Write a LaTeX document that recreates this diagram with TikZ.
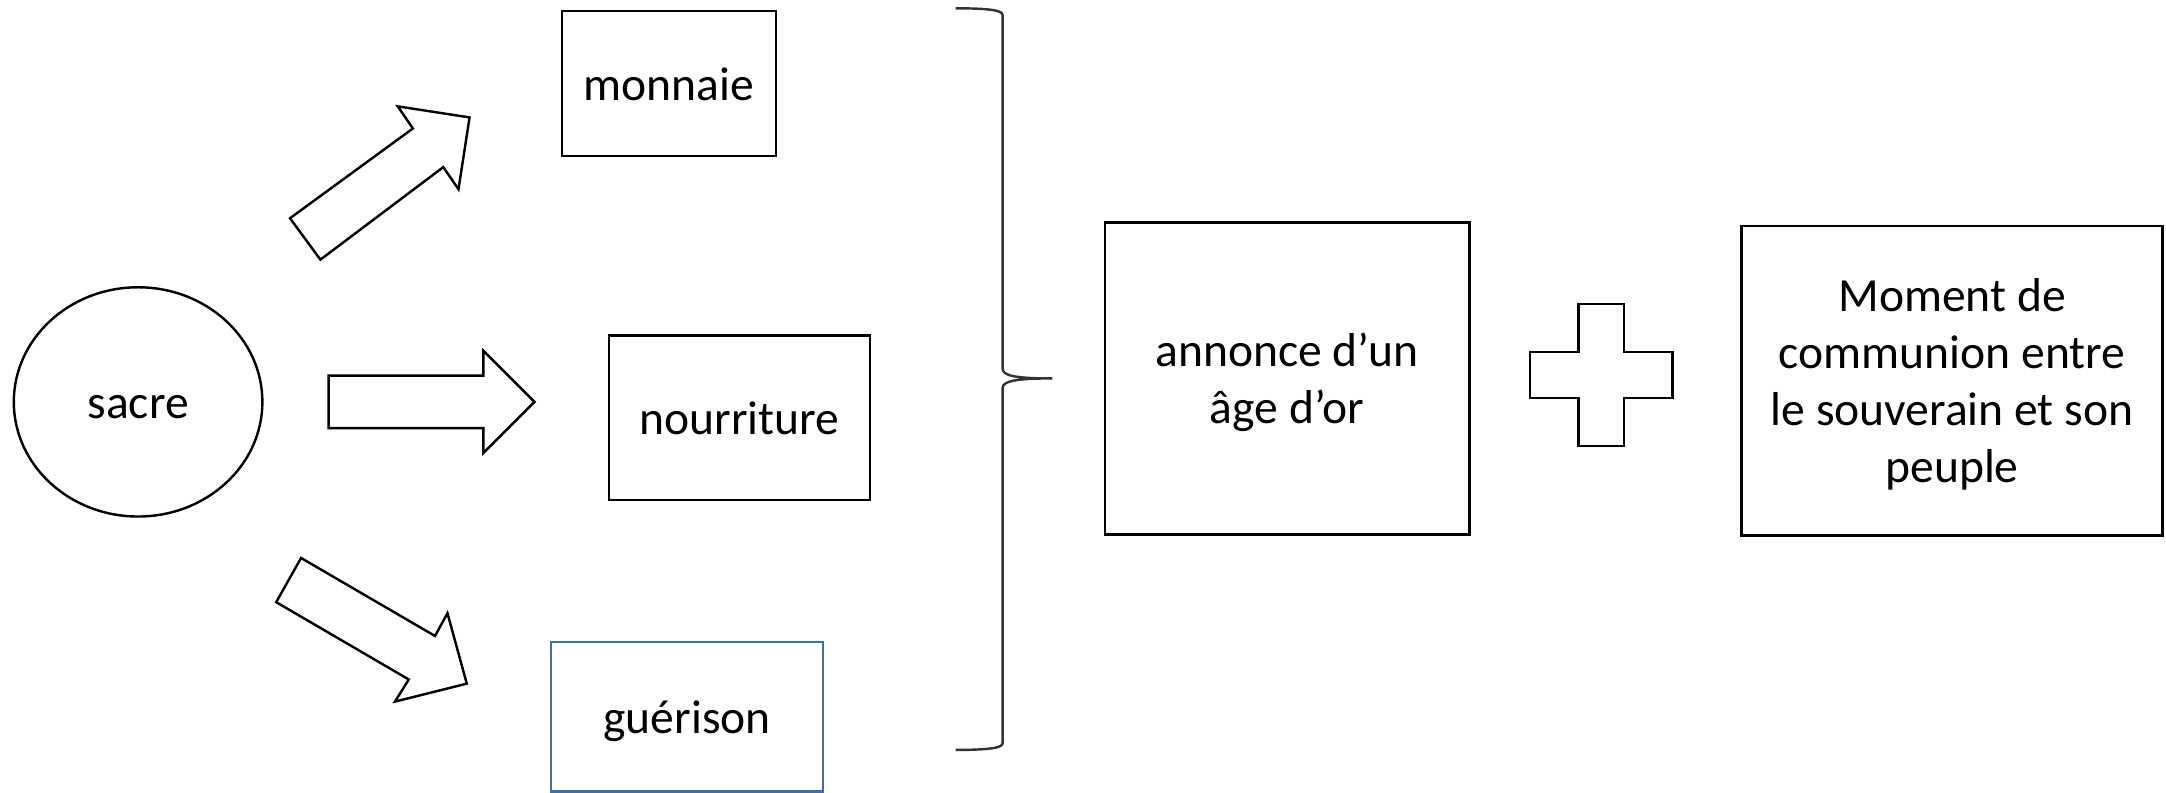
\documentclass[tikz,border=0pt]{standalone}
\usepackage{fontspec}
\setmainfont{Carlito}
\usetikzlibrary{shapes.geometric}
\definecolor{boxblue}{RGB}{65,113,156}
\tikzset{
  box/.style={draw, line width=0.5pt, inner sep=0pt, align=center, text height=8.6pt, text depth=1.8pt},
  twolines/.style={text height=20.3pt},
  fourlines/.style={text height=43.7pt},
  shapeline/.style={draw, line width=0.5pt, line join=miter},
}
\begin{document}
\begin{tikzpicture}[font=\fontsize{9.8}{11.7}\selectfont]
            \useasboundingbox (0,0) rectangle (15.684,-5.742);
            % the starting point
            \node[box, ellipse, minimum width=1.80cm, minimum height=1.66cm] (sacre) at (1.00,-2.91) {sacre};
            % the three boxes on the left
            \node[box, minimum width=1.55cm, minimum height=1.05cm] (monnaie) at (4.845,-0.605) {monnaie};
            \node[box, minimum width=1.89cm, minimum height=1.19cm] (nourriture) at (5.355,-3.025) {nourriture};
            \node[box, draw=boxblue, minimum width=1.97cm, minimum height=1.08cm] (guerison) at (4.975,-5.19) {guérison};
            % the two boxes on the right
            \node[box, twolines, minimum width=2.64cm, minimum height=2.26cm] (annonce) at (9.32,-2.74) {annonce d’un\\âge d’or};
            \node[box, fourlines, minimum width=3.05cm, minimum height=2.24cm] (communion) at (14.135,-2.756) {Moment de\\communion entre\\le souverain et son\\peuple};
            % the block arrows
            \draw[shapeline] (2.10,-1.58) -- (2.99,-0.93) -- (2.88,-0.77) -- (3.40,-0.85) -- (3.32,-1.37) -- (3.21,-1.21) -- (2.32,-1.88) -- cycle;
            \draw[shapeline] (2.38,-2.72) -- (3.50,-2.72) -- (3.50,-2.54) -- (3.87,-2.91) -- (3.50,-3.28) -- (3.50,-3.10) -- (2.38,-3.10) -- cycle;
            \draw[shapeline] (2.18,-4.04) -- (3.15,-4.605) -- (3.24,-4.44) -- (3.38,-4.95) -- (2.86,-5.08) -- (2.96,-4.92) -- (2.00,-4.36) -- cycle;
            % the brace
            \draw[line width=0.5pt, black!80] (6.92,-0.06) .. controls (7.20,-0.06) and (7.26,-0.08) .. (7.26,-0.11)
                -- (7.26,-2.67) .. controls (7.26,-2.72) and (7.35,-2.74) .. (7.62,-2.74)
                .. controls (7.35,-2.74) and (7.26,-2.76) .. (7.26,-2.81)
                -- (7.26,-5.38) .. controls (7.26,-5.41) and (7.20,-5.43) .. (6.92,-5.43);
            % the plus sign
            \draw[shapeline] (11.43,-2.20) -- (11.76,-2.20) -- (11.76,-2.55) -- (12.11,-2.55) -- (12.11,-2.88) -- (11.76,-2.88) -- (11.76,-3.23) -- (11.43,-3.23) -- (11.43,-2.88) -- (11.08,-2.88) -- (11.08,-2.55) -- (11.43,-2.55) -- cycle;
\end{tikzpicture}
\end{document}
